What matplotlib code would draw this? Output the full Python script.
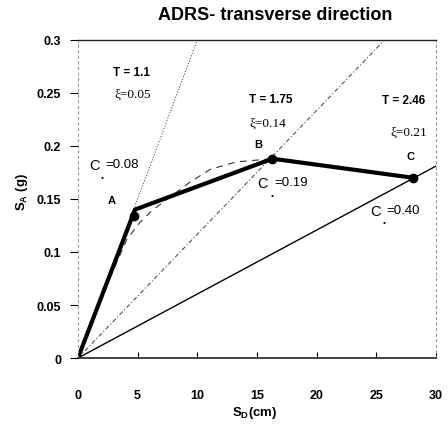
import matplotlib
matplotlib.use("Agg")
import matplotlib.pyplot as plt

# ---- data ----
bilinear_sd = [0.0, 4.78, 16.3, 28.1]
bilinear_sa = [0.0, 0.140, 0.188, 0.170]

perf_sd = [4.7, 16.3, 28.1]
perf_sa = [0.134, 0.188, 0.170]

capacity_sd = [0.0, 2.0, 4.1, 5.2, 6.2, 7.5, 9.4, 11.1, 13.3, 16.3]
capacity_sa = [0.0, 0.058, 0.112, 0.128, 0.139, 0.150, 0.166, 0.178, 0.185, 0.188]

t11_sd = [0.0, 10.0]
t11_sa = [0.0, 0.30]
t175_sd = [0.0, 25.7]
t175_sa = [0.0, 0.30]
t246_sd = [0.0, 30.0]
t246_sa = [0.0, 0.181]

x_ticks = [0, 5, 10, 15, 20, 25, 30]
y_ticks = [0, 0.05, 0.1, 0.15, 0.2, 0.25, 0.3]
y_tick_labels = ["0", "0.05", "0.1", "0.15", "0.2", "0.25", "0.3"]

plt.rcParams['font.family'] = ['Liberation Sans', 'DejaVu Sans']
serif = ['Liberation Serif', 'DejaVu Serif']

fig = plt.figure(figsize=(4.48, 4.31), dpi=100)
ax = fig.add_axes([0.174, 0.167, 0.799, 0.738])

ax.plot(t11_sd, t11_sa, color='#555555', lw=0.8, ls=(0, (1, 1.5)))
ax.plot(t175_sd, t175_sa, color='#555555', lw=0.8, ls=(0, (4, 2, 1, 2)))
ax.plot(t246_sd, t246_sa, color='black', lw=1.0)
ax.plot(capacity_sd, capacity_sa, color='#333333', lw=0.8, ls=(0, (6, 5)))
ax.plot(bilinear_sd, bilinear_sa, color='black', lw=3.0, solid_capstyle='round')
ax.plot(perf_sd, perf_sa, 'o', color='black', ms=6)

ax.set_xlim(0, 30)
ax.set_ylim(0, 0.3)
ax.set_xticks(x_ticks)
ax.set_yticks(y_ticks)
ax.set_yticklabels(y_tick_labels)
ax.tick_params(axis='y', direction='out', length=6, width=0.8, pad=6, labelsize=9)
ax.tick_params(axis='x', direction='in', length=4, width=0.8, pad=22, labelsize=9)
for lab in ax.get_xticklabels() + ax.get_yticklabels():
    lab.set_fontweight('bold')

for s in ['left', 'right']:
    ax.spines[s].set_color('#999999')
    ax.spines[s].set_linestyle((0, (2, 3)))
    ax.spines[s].set_linewidth(0.8)
ax.spines['top'].set_color('#222222')
ax.spines['bottom'].set_color('#222222')
ax.spines['top'].set_linewidth(1.0)
ax.spines['bottom'].set_linewidth(1.2)

# annotations
ax.text(4.5, 0.270, "T = 1.1", fontsize=8.5, fontweight='bold', ha='center', va='center')
ax.text(4.6, 0.249, "ξ=0.05", fontsize=9.5, family=serif, ha='center', va='center')
ax.text(16.2, 0.244, "T = 1.75", fontsize=8.5, fontweight='bold', ha='center', va='center')
ax.text(15.9, 0.222, "ξ=0.14", fontsize=9.5, family=serif, ha='center', va='center')
ax.text(27.3, 0.243, "T = 2.46", fontsize=8.5, fontweight='bold', ha='center', va='center')
ax.text(27.7, 0.214, "ξ=0.21", fontsize=9.5, family=serif, ha='center', va='center')

ax.text(2.85, 0.149, "A", fontsize=8, fontweight='bold', ha='center', va='center')
ax.text(15.1, 0.202, "B", fontsize=8, fontweight='bold', ha='center', va='center')
ax.text(27.9, 0.191, "C", fontsize=8, fontweight='bold', ha='center', va='center')

for cx, cy, ex, val, dx, dy in [(1.35, 0.182, 2.3, "=0.08", 2.0, 0.170),
                                 (15.5, 0.165, 16.45, "=0.19", 16.3, 0.153),
                                 (24.9, 0.139, 25.85, "=0.40", 25.7, 0.128)]:
    ax.text(cx, cy, "C", fontsize=10.5, ha='center', va='center')
    ax.text(ex, cy + 0.001, val, fontsize=9.5, ha='left', va='center')
    ax.text(dx, dy, "•", fontsize=6, ha='center', va='center')

fig.text(275 / 448, 1 - 15 / 431, "ADRS- transverse direction", fontsize=13,
         fontweight='bold', ha='center', va='center')
fig.text(255 / 448, 1 - 413 / 431, r"S$_{\mathregular{D}}$(cm)", fontsize=9.5,
         fontweight='bold', ha='center', va='center')
fig.text(22 / 448, 1 - 192 / 431, r"S$_{\mathregular{A}}$ (g)", fontsize=9.5,
         fontweight='bold', ha='center', va='center', rotation=90)

fig.savefig("out.png", dpi=100)
